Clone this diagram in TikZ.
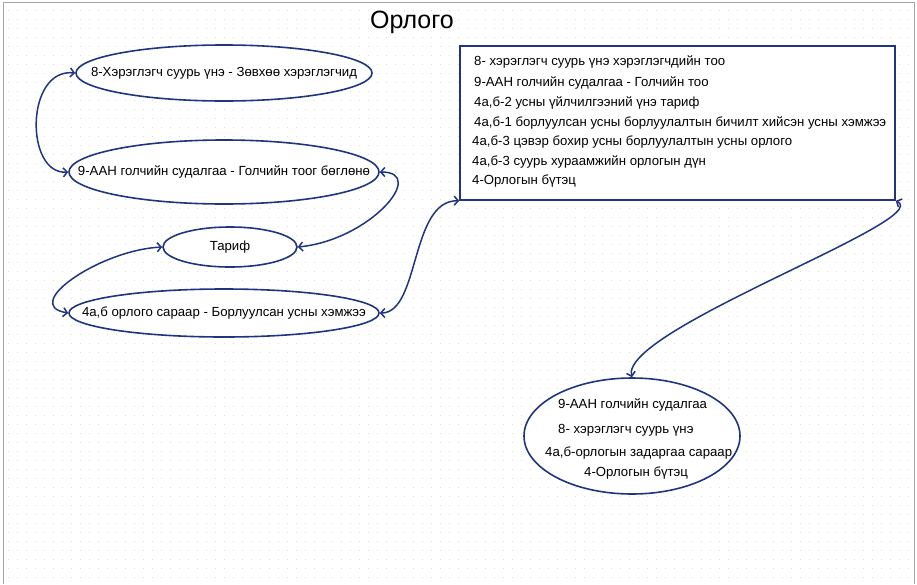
\documentclass[tikz,border=0pt]{standalone}
\usepackage{fontspec}
\setmainfont{Liberation Sans}
\usetikzlibrary{shapes.geometric,arrows.meta}
\definecolor{navy}{RGB}{33,52,128}

\begin{document}
\begin{tikzpicture}[x=1pt,y=-1pt,
  oval/.style={draw=navy, fill=white, line width=1.6pt, ellipse, inner sep=0pt, font=\fontsize{13.2}{15}\selectfont},
  link/.style={draw=navy, line width=1.5pt, {Straight Barb[length=4pt,width=9pt]}-{Straight Barb[length=4pt,width=9pt]}},
  txt/.style={anchor=west, inner sep=0pt, font=\fontsize{13.2}{15}\selectfont}]

\useasboundingbox (0,0) rectangle (917,584);
% фон с точками
\fill[white] (0,0) rectangle (917,584);
\foreach \yy in {10,19,...,580}
  \draw[gray!25, line width=0.6pt, dash pattern=on 0.6pt off 8.4pt] (8,\yy) -- (912,\yy);
% рамка листа
\draw[gray!70, line width=1pt] (3,584) -- (3,2) -- (914,2) -- (914,584);

% Заголовок
\node[font=\fontsize{25}{28}\selectfont] (title) at (412,22.5) {Орлого};

% Эллипсы слева
\node[oval, minimum width=296pt, minimum height=56pt] (zovhoo) at (224,73) {\makebox[0pt]{8-Хэрэглэгч суурь үнэ - Зөвхөө хэрэглэгчид}};
\node[oval, minimum width=310pt, minimum height=64pt] (golch) at (224,172) {\makebox[0pt]{9-ААН голчийн судалгаа - Голчийн тоог бөглөнө}};
\node[oval, minimum width=134pt, minimum height=40pt] (tarif) at (230,247) {\makebox[0pt]{Тариф}};
\node[oval, minimum width=310pt, minimum height=48pt] (saraar) at (224,313) {\makebox[0pt]{4а,б орлого сараар - Борлуулсан усны хэмжээ}};

% Прямоугольник со списком
\node[draw=navy, fill=white, line width=1.6pt, minimum width=435pt, minimum height=154pt, inner sep=0pt] (jagsaalt) at (677.5,123) {};
\node[txt] (j1) at (474,62) {8- хэрэглэгч суурь үнэ хэрэглэгчдийн тоо};
\node[txt] (j2) at (474,83) {9-ААН голчийн судалгаа - Голчийн тоо};
\node[txt] (j3) at (474,103) {4а,б-2 усны үйлчилгээний үнэ тариф};
\node[txt] (j4) at (474,123) {4а,б-1 борлуулсан усны борлуулалтын бичилт хийсэн усны хэмжээ};
\node[txt] (j5) at (472,142) {4а,б-3 цэвэр бохир усны борлуулалтын усны орлого};
\node[txt] (j6) at (472,162) {4а,б-3 суурь хураамжийн орлогын дүн};
\node[txt] (j7) at (472,181) {4-Орлогын бүтэц};

% Эллипс справа внизу
\node[oval, minimum width=216pt, minimum height=116pt] (butets) at (632,436) {};
\node[txt] (b1) at (558,405) {9-ААН голчийн судалгаа};
\node[txt] (b2) at (558,430) {8- хэрэглэгч суурь үнэ};
\node[txt] (b3) at (545,453) {4а,б-орлогын задаргаа сараар};
\node[txt] (b4) at (584,473) {4-Орлогын бүтэц};

% Связи
\draw[link] (zovhoo.west) .. controls (25,68) and (25,175) .. (golch.west);
\draw[link] (golch.east) .. controls (428,172) and (370,240) .. (tarif.east);
\draw[link] (tarif.west) .. controls (100,250) and (20,305) .. (saraar.west);
\draw[link] (saraar.east) .. controls (420,313) and (410,200) .. (jagsaalt.south west);
\draw[link] (jagsaalt.south east) .. controls (935,220) and (620,330) .. (butets.north);

\end{tikzpicture}
\end{document}
